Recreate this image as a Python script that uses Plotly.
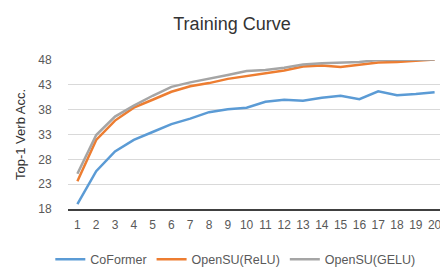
import plotly.graph_objects as go

epochs = [str(i) for i in range(1, 21)]
coformer = [19.0, 25.6, 29.6, 31.9, 33.5, 35.1, 36.2, 37.5, 38.1, 38.4,
            39.6, 40.0, 39.8, 40.4, 40.8, 40.1, 41.7, 40.9, 41.15, 41.5]
opensu_relu = [23.6, 31.9, 35.8, 38.4, 40.0, 41.6, 42.7, 43.35, 44.2, 44.8,
               45.3, 45.9, 46.7, 46.9, 46.6, 47.0, 47.5, 47.6, 47.9, 48.1]
opensu_gelu = [25.1, 32.9, 36.6, 38.8, 40.8, 42.6, 43.5, 44.2, 45.0, 45.8,
               46.0, 46.45, 47.1, 47.35, 47.5, 47.6, 48.0, 48.0, 48.0, 48.1]
y_ticks = [18, 23, 28, 33, 38, 43, 48]

font_family = "Liberation Sans, Arial, sans-serif"
fig = go.Figure()
for name, vals, color in [("CoFormer", coformer, "#5B9BD5"),
                          ("OpenSU(ReLU)", opensu_relu, "#ED7D31"),
                          ("OpenSU(GELU)", opensu_gelu, "#A5A5A5")]:
    fig.add_trace(go.Scatter(x=epochs, y=vals, name=name, mode="lines",
                             line=dict(color=color, width=2.5), cliponaxis=False))

fig.update_layout(
    width=448, height=278,
    margin=dict(l=57, r=12, t=52, b=71),
    paper_bgcolor="white", plot_bgcolor="white",
    font=dict(family=font_family, color="#595959", size=12),
    title=dict(text="Training Curve", x=0.5, xanchor="center", y=0.945, yanchor="middle",
               font=dict(size=18, color="#333333", family=font_family)),
    showlegend=True,
    legend=dict(orientation="h", x=0.445, xanchor="center", y=-0.34, yanchor="middle",
                font=dict(size=12.5, color="#595959"), itemwidth=30,
                entrywidthmode="pixels", entrywidth=0, tracegroupgap=0),
    xaxis=dict(type="category", range=[-0.5, 19.5], showgrid=False, showline=True,
               linecolor="#404040", linewidth=1.5, ticks="outside", ticklen=4,
               tickcolor="rgba(0,0,0,0)", tickfont=dict(size=12, color="#595959")),
    yaxis=dict(range=[18, 48], tickvals=y_ticks, showgrid=True, gridcolor="#D9D9D9",
               gridwidth=1, zeroline=False, showline=False, ticks="outside", ticklen=13,
               tickcolor="rgba(0,0,0,0)",
               tickfont=dict(size=12, color="#595959"),
               title=dict(text="Top-1 Verb Acc.", font=dict(size=13, color="#333333"), standoff=9)),
)
fig.write_html("out.html")
